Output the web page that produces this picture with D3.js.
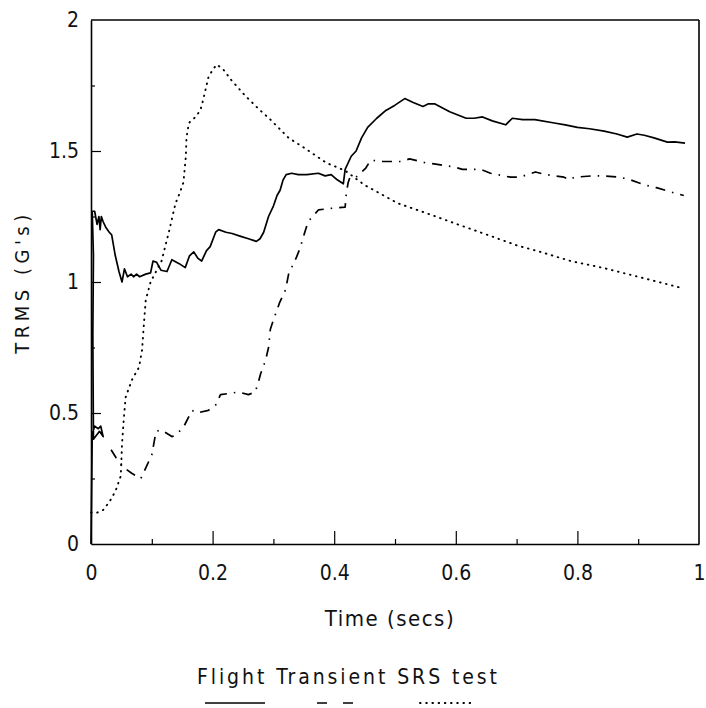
<!DOCTYPE html>
<html>
<head>
<meta charset="utf-8">
<script src="https://cdn.jsdelivr.net/npm/d3@7"></script>
<style>
  html, body { margin: 0; padding: 0; background: #fff; }
  svg { display: block; }
  text { font-family: "DejaVu Sans", sans-serif; font-stretch: condensed; fill: #111; }
</style>
</head>
<body>
<svg id="chart" width="706" height="708"></svg>
<script>
// ---- data ----
const xTicks = [0, 0.2, 0.4, 0.6, 0.8, 1];
const xTickLabels = ["0", "0.2", "0.4", "0.6", "0.8", "1"];
const xMinorTicks = [0.1, 0.3, 0.5, 0.7, 0.9];
const yTicks = [0, 0.5, 1, 1.5, 2];
const yTickLabels = ["0", "0.5", "1", "1.5", "2"];
const yMinorTicks = [0.25, 0.75, 1.25, 1.75];

const legendTitle = "Flight Transient SRS test";
const seriesNames = ["Flight", "Transient", "SRS test"];

// Flight (solid)  [time, TRMS]
const flight = [
  [0,0],[0.002,0.42],[0.006,0.45],[0.012,0.44],[0.016,0.45],[0.02,0.41],[0.014,0.43],[0.004,0.4],
  [0.003,0.8],[0.004,1.1],[0.002,1.27],[0.006,1.27],[0.01,1.22],[0.013,1.25],[0.015,1.2],[0.017,1.25],
  [0.02,1.23],[0.024,1.21],[0.03,1.19],[0.034,1.18],[0.04,1.1],[0.046,1.04],[0.051,1.0],[0.055,1.05],
  [0.06,1.02],[0.066,1.03],[0.07,1.02],[0.075,1.03],[0.08,1.02],[0.09,1.03],[0.098,1.035],[0.102,1.08],
  [0.108,1.075],[0.115,1.045],[0.125,1.04],[0.133,1.085],[0.145,1.07],[0.155,1.055],[0.162,1.1],
  [0.169,1.115],[0.176,1.09],[0.182,1.08],[0.19,1.12],[0.196,1.135],[0.205,1.19],[0.21,1.2],[0.222,1.19],
  [0.232,1.185],[0.245,1.175],[0.259,1.165],[0.272,1.155],[0.278,1.165],[0.284,1.19],[0.292,1.25],
  [0.30,1.29],[0.306,1.33],[0.311,1.35],[0.316,1.39],[0.321,1.41],[0.33,1.415],[0.341,1.41],[0.355,1.41],
  [0.374,1.415],[0.385,1.405],[0.395,1.41],[0.405,1.39],[0.415,1.375],[0.418,1.43],[0.428,1.48],
  [0.436,1.50],[0.445,1.55],[0.455,1.59],[0.47,1.625],[0.485,1.655],[0.5,1.675],[0.516,1.70],[0.53,1.685],
  [0.546,1.67],[0.555,1.68],[0.565,1.68],[0.59,1.65],[0.617,1.625],[0.63,1.625],[0.644,1.63],[0.66,1.615],
  [0.682,1.60],[0.693,1.625],[0.71,1.62],[0.73,1.62],[0.762,1.607],[0.78,1.6],[0.80,1.59],[0.82,1.585],
  [0.844,1.576],[0.865,1.565],[0.882,1.553],[0.898,1.565],[0.91,1.56],[0.926,1.55],[0.948,1.534],
  [0.96,1.535],[0.977,1.53]
];

// Transient (dashed)
const transient = [
  [0.033,0.36],[0.041,0.33],[0.055,0.29],[0.067,0.27],[0.082,0.25],[0.092,0.30],[0.1,0.34],[0.107,0.43],
  [0.116,0.435],[0.133,0.41],[0.139,0.415],[0.152,0.445],[0.166,0.51],[0.174,0.50],[0.193,0.51],
  [0.205,0.53],[0.213,0.57],[0.243,0.58],[0.259,0.57],[0.27,0.58],[0.275,0.615],[0.279,0.65],[0.287,0.70],
  [0.292,0.75],[0.295,0.82],[0.30,0.855],[0.31,0.92],[0.32,0.97],[0.325,1.03],[0.338,1.095],[0.344,1.13],
  [0.349,1.17],[0.357,1.23],[0.374,1.275],[0.39,1.28],[0.418,1.286],[0.42,1.34],[0.423,1.38],[0.426,1.40],
  [0.436,1.40],[0.452,1.435],[0.46,1.465],[0.48,1.46],[0.51,1.46],[0.524,1.47],[0.55,1.455],[0.567,1.45],
  [0.595,1.44],[0.611,1.43],[0.641,1.43],[0.657,1.415],[0.69,1.40],[0.705,1.40],[0.731,1.42],[0.748,1.41],
  [0.778,1.40],[0.787,1.39],[0.795,1.40],[0.824,1.405],[0.844,1.405],[0.87,1.40],[0.887,1.39],[0.911,1.37],
  [0.93,1.36],[0.959,1.34],[0.975,1.33]
];

// SRS test (dotted)
const srsTest = [
  [0,0.12],[0.01,0.12],[0.02,0.13],[0.03,0.16],[0.04,0.2],[0.049,0.26],[0.051,0.38],[0.054,0.48],
  [0.057,0.56],[0.067,0.625],[0.079,0.675],[0.084,0.74],[0.087,0.84],[0.09,0.93],[0.098,1.0],[0.107,1.04],
  [0.116,1.08],[0.128,1.19],[0.139,1.30],[0.146,1.34],[0.152,1.38],[0.156,1.48],[0.157,1.55],[0.161,1.607],
  [0.172,1.63],[0.18,1.656],[0.185,1.70],[0.193,1.78],[0.2,1.81],[0.207,1.83],[0.218,1.81],[0.231,1.77],
  [0.254,1.71],[0.276,1.66],[0.295,1.62],[0.325,1.55],[0.352,1.51],[0.387,1.455],[0.418,1.425],[0.45,1.37],
  [0.505,1.30],[0.549,1.265],[0.603,1.22],[0.652,1.18],[0.70,1.14],[0.739,1.115],[0.789,1.08],
  [0.844,1.053],[0.92,1.008],[0.975,0.975]
];

// ---- chart ----
const svg = d3.select("#chart");
const x = d3.scaleLinear().domain([0, 1]).range([91, 699]);
const y = d3.scaleLinear().domain([0, 2]).range([544, 20]);
const fontSize = 21;

// frame (top and right)
svg.append("line").attr("x1", x(0)).attr("x2", x(1)).attr("y1", y(2)).attr("y2", y(2))
  .attr("stroke", "#000").attr("stroke-width", 1.6);
svg.append("line").attr("x1", x(1)).attr("x2", x(1)).attr("y1", y(2)).attr("y2", y(0))
  .attr("stroke", "#000").attr("stroke-width", 1.6);

// x axis
const xAxis = d3.axisBottom(x).tickValues(xTicks)
  .tickFormat((d, i) => xTickLabels[i]).tickSizeInner(-13).tickSizeOuter(0).tickPadding(21);
const gx = svg.append("g").attr("transform", `translate(0,${y(0)})`).call(xAxis);
gx.select(".domain").attr("stroke", "#000").attr("stroke-width", 1.6);
gx.selectAll(".tick line").attr("stroke", "#000").attr("stroke-width", 1.2);
gx.selectAll(".tick line").filter(d => d === 0 || d === 1).remove();
gx.selectAll("text").attr("font-size", fontSize);

const xMinor = d3.axisBottom(x).tickValues(xMinorTicks).tickFormat("").tickSizeInner(-5).tickSizeOuter(0);
const gxm = svg.append("g").attr("transform", `translate(0,${y(0)})`).call(xMinor);
gxm.select(".domain").remove();
gxm.selectAll(".tick line").attr("stroke", "#000").attr("stroke-width", 1.2);

// y axis
const yAxis = d3.axisLeft(y).tickValues(yTicks)
  .tickFormat((d, i) => yTickLabels[i]).tickSizeInner(-10).tickSizeOuter(0).tickPadding(12);
const gy = svg.append("g").attr("transform", `translate(${x(0)},0)`).call(yAxis);
gy.select(".domain").attr("stroke", "#000").attr("stroke-width", 1.6);
gy.selectAll(".tick line").attr("stroke", "#000").attr("stroke-width", 1.2);
gy.selectAll(".tick line").filter(d => d === 0 || d === 2).remove();
gy.selectAll("text").attr("font-size", fontSize);

const yMinor = d3.axisLeft(y).tickValues(yMinorTicks).tickFormat("").tickSizeInner(-4).tickSizeOuter(0);
const gym = svg.append("g").attr("transform", `translate(${x(0)},0)`).call(yMinor);
gym.select(".domain").remove();
gym.selectAll(".tick line").attr("stroke", "#000").attr("stroke-width", 1.2);

svg.selectAll("g").attr("font-family", null);

// axis titles
svg.append("text").attr("x", 390).attr("y", 626).attr("text-anchor", "middle")
  .attr("font-size", 22).attr("letter-spacing", 1.5).text("Time (secs)");
svg.append("text").attr("transform", `translate(29,282) rotate(-90)`).attr("text-anchor", "middle")
  .attr("font-size", 20).attr("letter-spacing", 4.5).text("TRMS (G's)");

// lines
const line = d3.line().x(d => x(d[0])).y(d => y(d[1]));
const styles = [
  { data: flight, dash: null, width: 1.7, cap: "butt" },
  { data: transient, dash: "10,7,1.5,7", width: 1.7, cap: "butt" },
  { data: srsTest, dash: "0.6,5.6", width: 1.9, cap: "round" }
];
styles.forEach((s, i) => {
  svg.append("path").datum(s.data).attr("d", line)
    .attr("fill", "none").attr("stroke", "#000")
    .attr("stroke-width", s.width).attr("stroke-linecap", s.cap)
    .attr("stroke-linejoin", "round")
    .attr("stroke-dasharray", s.dash)
    .attr("data-series", seriesNames[i]);
});

// legend
svg.append("text").attr("x", 197).attr("y", 684).attr("font-size", 21)
  .attr("textLength", 300).attr("lengthAdjust", "spacing").text(legendTitle);
const legendSamples = [
  { x1: 205, x2: 265, dash: null, width: 1.7, cap: "butt" },
  { x1: 317, x2: 353, dash: "10,16", width: 1.7, cap: "butt" },
  { x1: 420, x2: 472, dash: "0.6,5.6", width: 1.9, cap: "round" }
];
legendSamples.forEach(s => {
  svg.append("line").attr("x1", s.x1).attr("x2", s.x2).attr("y1", 703).attr("y2", 703)
    .attr("stroke", "#000").attr("stroke-width", s.width).attr("stroke-linecap", s.cap)
    .attr("stroke-dasharray", s.dash);
});
</script>
</body>
</html>
